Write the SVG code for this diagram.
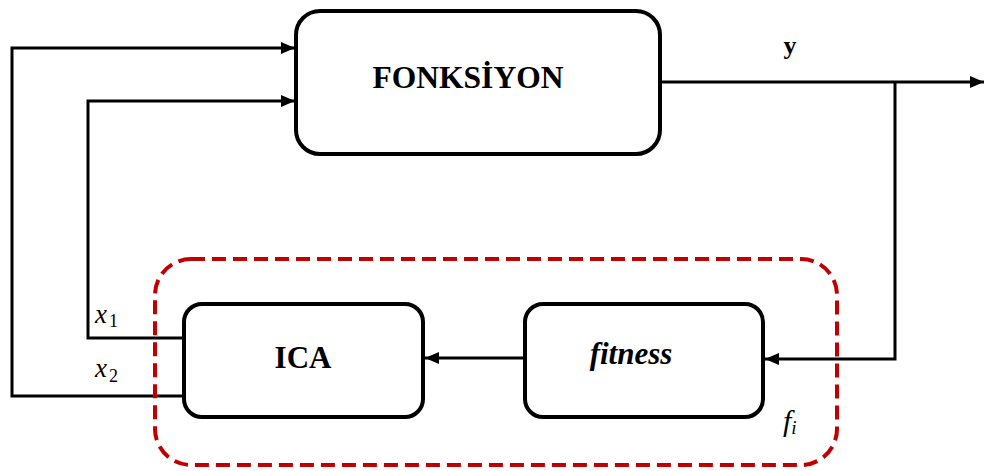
<svg xmlns="http://www.w3.org/2000/svg" width="984" height="471" viewBox="0 0 984 471">
<style>
.box{fill:#fff;stroke:#000;stroke-width:4}
.ln{fill:none;stroke:#000;stroke-width:3}
text{font-family:'Liberation Serif','Times New Roman',serif;fill:#000}
.b{font-weight:bold}
.i{font-style:italic}
.c{text-anchor:middle}
</style>
<defs>
<marker id="ah" markerWidth="14" markerHeight="12" refX="14" refY="6" orient="auto" markerUnits="userSpaceOnUse">
<path d="M0,0 L14,6 L0,12 Z" fill="#000"/>
</marker>
</defs>
<g id="connectors">
<path class="ln" d="M185,396 H12 V48 H295" marker-end="url(#ah)"/>
<path class="ln" d="M185,338 H88 V101 H295" marker-end="url(#ah)"/>
<path class="ln" d="M660,82 H984" marker-end="url(#ah)"/>
<path class="ln" d="M895,82 V359 H765" marker-end="url(#ah)"/>
<path class="ln" d="M525,358 H425" marker-end="url(#ah)"/>
</g>
<g id="group-fi">
<rect x="155" y="259" width="682" height="206" rx="36" ry="36" fill="none" stroke="#C00000" stroke-width="4" stroke-dasharray="14 7"/>
<text class="i" x="783" y="431" style="font-family:'Liberation Serif',serif;font-size:30px">f<tspan style="font-size:19px" dy="3">i</tspan></text>
</g>
<g id="fonksiyon">
<rect class="box" x="296" y="11" width="364" height="143" rx="24" ry="24"/>
<text class="b c" x="468" y="88" style="font-family:'Liberation Serif',serif;font-size:31.5px">FONKSİYON</text>
</g>
<g id="ica">
<rect class="box" x="184" y="304" width="239" height="113" rx="18" ry="18"/>
<text class="b c" x="303" y="368" style="font-family:'Liberation Serif',serif;font-size:31px">ICA</text>
</g>
<g id="fitness">
<rect class="box" x="525" y="304" width="238" height="113" rx="18" ry="18"/>
<text class="b i c" x="631" y="364" style="font-family:'Liberation Serif',serif;font-size:31px">fitness</text>
</g>
<g id="labels">
<text class="b c" x="790" y="54" style="font-family:'Liberation Serif',serif;font-size:26px">y</text>
<text class="i" x="95" y="323" style="font-family:'Liberation Serif',serif;font-size:27px">x<tspan style="font-style:normal;font-size:18px" dy="4" dx="2">1</tspan></text>
<text class="i" x="95" y="377" style="font-family:'Liberation Serif',serif;font-size:27px">x<tspan style="font-style:normal;font-size:18px" dy="5" dx="2">2</tspan></text>
</g>
</svg>
